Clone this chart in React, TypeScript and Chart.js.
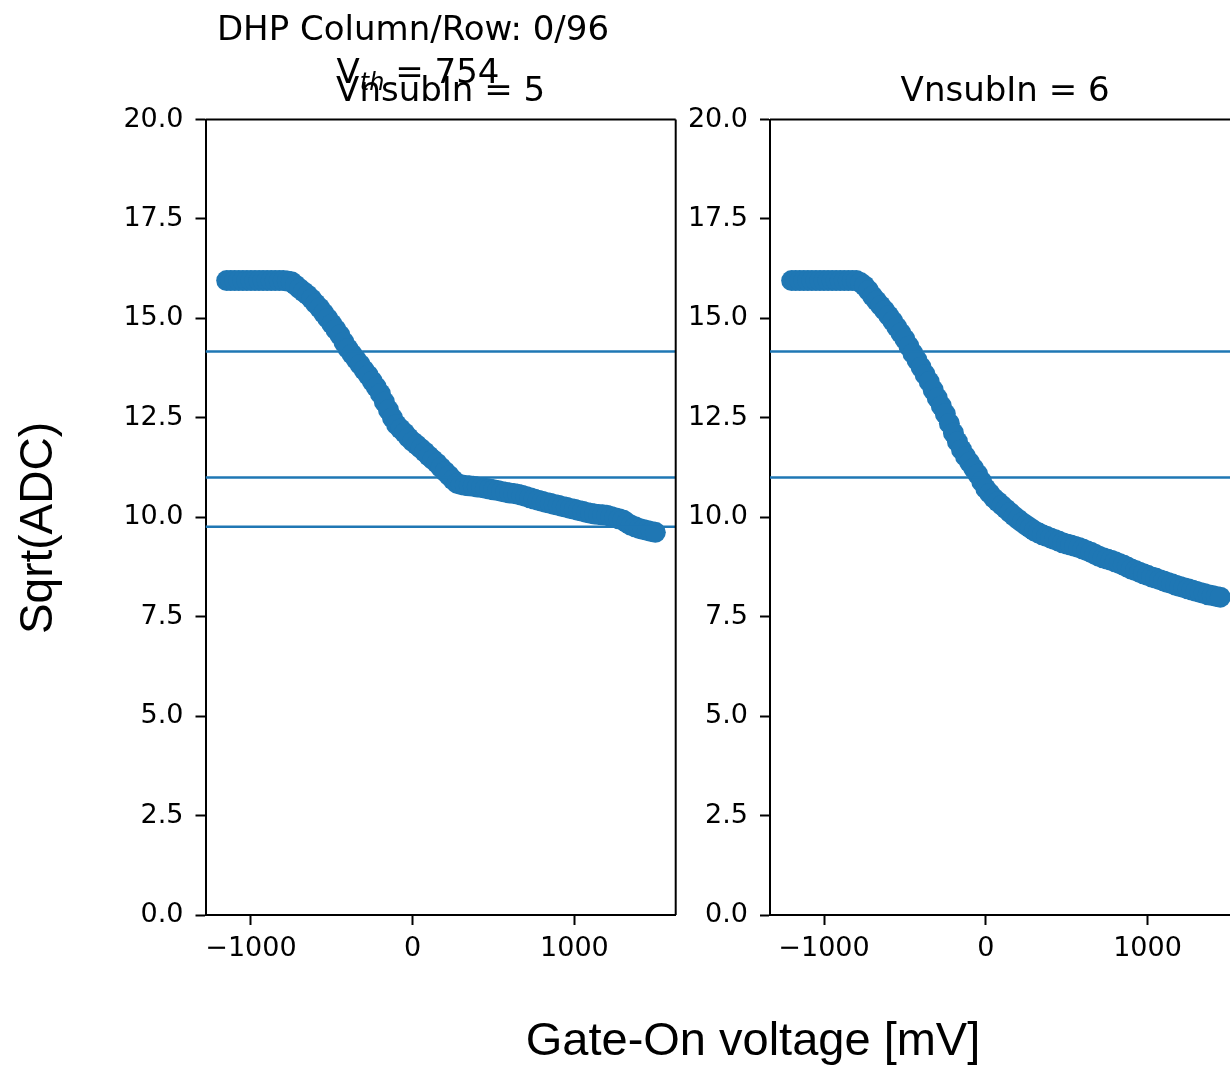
import React, { useEffect, useRef } from 'react';
import { Chart, registerables } from 'chart.js';

Chart.register(...registerables);

// ---------- data ----------
const suptitle = 'DHP Column/Row: 0/96';
const vthLabel = 'V';
const vthSub = 'th';
const vthValue = 754;
const panelTitles = ['VnsubIn = 5', 'VnsubIn = 6'];
const xAxisLabel = 'Gate-On voltage [mV]';
const yAxisLabel = 'Sqrt(ADC)';

const xTickValues = [-1000, 0, 1000];
const yTickValues = [0, 2.5, 5, 7.5, 10, 12.5, 15, 17.5, 20];

const leftGate = [
  -1150, -1125, -1100, -1075, -1050, -1025, -1000, -975, -950, -925, -900, -875, -850, -825,
  -800, -775, -750, -725, -700, -675, -650, -625, -600, -575, -550, -525, -500, -475, -450,
  -425, -400, -375, -350, -325, -300, -275, -250, -225, -200, -175, -150, -125, -100, -75, -50,
  -25, 0, 25, 50, 75, 100, 125, 150, 175, 200, 225, 250, 275, 300, 325, 350, 375, 400, 425, 450,
  475, 500, 525, 550, 575, 600, 625, 650, 675, 700, 725, 750, 775, 800, 825, 850, 875, 900, 925,
  950, 975, 1000, 1025, 1050, 1075, 1100, 1125, 1150, 1175, 1200, 1225, 1250, 1275, 1300, 1325,
  1350, 1375, 1400, 1425, 1450, 1475, 1500,
];
const leftSqrtAdc = [
  15.95, 15.95, 15.95, 15.95, 15.95, 15.95, 15.95, 15.95, 15.95, 15.95, 15.95, 15.95, 15.95, 15.95,
  15.95, 15.94, 15.92, 15.84, 15.75, 15.67, 15.59, 15.49, 15.37, 15.26, 15.13, 15.0, 14.86, 14.72,
  14.58, 14.4, 14.24, 14.1, 13.97, 13.84, 13.7, 13.57, 13.42, 13.27, 13.11, 12.9, 12.7, 12.5, 12.33,
  12.22, 12.12, 12.0, 11.9, 11.82, 11.73, 11.64, 11.54, 11.45, 11.36, 11.25, 11.15, 11.05, 10.94,
  10.85, 10.82, 10.8, 10.79, 10.78, 10.76, 10.75, 10.73, 10.71, 10.69, 10.67, 10.65, 10.63, 10.61,
  10.6, 10.58, 10.55, 10.52, 10.49, 10.46, 10.43, 10.4, 10.37, 10.35, 10.32, 10.3, 10.27, 10.25,
  10.22, 10.2, 10.17, 10.15, 10.12, 10.1, 10.08, 10.07, 10.06, 10.05, 10.02, 9.99, 9.96, 9.93,
  9.86, 9.8, 9.76, 9.72, 9.69, 9.67, 9.64, 9.62,
];
const leftThresholds = [14.17, 11.0, 9.76];

const rightGate = [
  -1200, -1175, -1150, -1125, -1100, -1075, -1050, -1025, -1000, -975, -950, -925, -900, -875,
  -850, -825, -800, -775, -750, -725, -700, -675, -650, -625, -600, -575, -550, -525, -500, -475,
  -450, -425, -400, -375, -350, -325, -300, -275, -250, -225, -200, -175, -150, -125, -100, -75,
  -50, -25, 0, 25, 50, 75, 100, 125, 150, 175, 200, 225, 250, 275, 300, 325, 350, 375, 400, 425,
  450, 475, 500, 525, 550, 575, 600, 625, 650, 675, 700, 725, 750, 775, 800, 825, 850, 875, 900,
  925, 950, 975, 1000, 1025, 1050, 1075, 1100, 1125, 1150, 1175, 1200, 1225, 1250, 1275, 1300,
  1325, 1350, 1375, 1400, 1425, 1450,
];
const rightSqrtAdc = [
  15.95, 15.95, 15.95, 15.95, 15.95, 15.95, 15.95, 15.95, 15.95, 15.95, 15.95, 15.95, 15.95, 15.95,
  15.95, 15.95, 15.95, 15.9, 15.82, 15.7, 15.56, 15.44, 15.32, 15.2, 15.07, 14.93, 14.78, 14.63,
  14.48, 14.3, 14.12, 13.95, 13.77, 13.59, 13.41, 13.2, 13.0, 12.8, 12.6, 12.36, 12.12, 11.9, 11.7,
  11.53, 11.38, 11.23, 11.08, 10.9, 10.72, 10.6, 10.48, 10.39, 10.3, 10.21, 10.12, 10.03, 9.95,
  9.87, 9.8, 9.73, 9.66, 9.61, 9.56, 9.52, 9.48, 9.44, 9.4, 9.36, 9.33, 9.3, 9.27, 9.24, 9.2, 9.16,
  9.12, 9.07, 9.02, 8.98, 8.95, 8.92, 8.88, 8.84, 8.8, 8.75, 8.7, 8.66, 8.62, 8.58, 8.54, 8.5, 8.47,
  8.43, 8.4, 8.36, 8.33, 8.29, 8.26, 8.23, 8.2, 8.17, 8.14, 8.11, 8.08, 8.05, 8.03, 8.01, 7.99,
];
const rightThresholds = [14.17, 11.0];

const leftXRange = [-1281, 1626];
const rightXRange = [-1334, 1573];
const yRange = [0, 20];

// ---------- styling ----------
const BLUE = '#1f77b4';
const TICK_FONT = 'DejaVu Sans';
const LABEL_FONT = 'Liberation Sans';
const CANVAS_W = 1300;
const CANVAS_H = 1065;
const Y_AXIS_W = 100;
const X_AXIS_H = 70;

const fmtX = (v: number) => (v < 0 ? '\u2212' + Math.abs(v) : String(v));

function framePlugin() {
  return {
    id: 'frame',
    afterDraw(chart: any) {
      const { ctx, chartArea: a } = chart;
      ctx.save();
      ctx.strokeStyle = '#000';
      ctx.lineWidth = 2;
      ctx.beginPath();
      ctx.moveTo(a.left, a.top);
      ctx.lineTo(a.right, a.top);
      ctx.moveTo(a.right, a.top);
      ctx.lineTo(a.right, a.bottom);
      ctx.stroke();
      ctx.restore();
    },
  };
}

function textPlugin(isLeft: boolean, title: string) {
  return {
    id: 'texts',
    afterDraw(chart: any) {
      const { ctx, chartArea: a } = chart;
      const cx = (a.left + a.right) / 2;
      ctx.save();
      ctx.fillStyle = '#000';
      ctx.textBaseline = 'alphabetic';
      ctx.textAlign = 'center';
      ctx.font = `34px "${TICK_FONT}"`;
      ctx.fillText(title, cx, 101);
      if (isLeft) {
        ctx.fillText(suptitle, 413, 40);
        // V_th = 754
        const mainFont = `34px "${TICK_FONT}"`;
        const subFont = `italic 24px "${TICK_FONT}"`;
        const rest = ' = ' + vthValue;
        ctx.font = mainFont;
        const wV = ctx.measureText(vthLabel).width;
        const wR = ctx.measureText(rest).width;
        ctx.font = subFont;
        const wS = ctx.measureText(vthSub).width;
        const total = wV + wS + wR;
        let x = 418 - total / 2;
        ctx.textAlign = 'left';
        ctx.font = mainFont;
        ctx.fillText(vthLabel, x, 83);
        x += wV;
        ctx.font = subFont;
        ctx.fillText(vthSub, x, 90);
        x += wS;
        ctx.font = mainFont;
        ctx.fillText(rest, x, 83);
        // axis labels
        ctx.textAlign = 'center';
        ctx.font = `47px "${LABEL_FONT}"`;
        ctx.fillText(xAxisLabel, 753, 1055);
        ctx.save();
        ctx.translate(52, 528);
        ctx.rotate(-Math.PI / 2);
        ctx.font = `46px "${LABEL_FONT}"`;
        ctx.fillText(yAxisLabel, 0, 0);
        ctx.restore();
      }
      ctx.restore();
    },
  };
}

function makeConfig(
  xs: number[],
  ys: number[],
  thresholds: number[],
  xRange: number[],
  area: { left: number; right: number; top: number; bottom: number },
  isLeft: boolean,
  title: string
): any {
  const tickFont = { family: TICK_FONT, size: 27 };
  return {
    type: 'scatter',
    data: {
      datasets: [
        {
          data: xs.map((x, i) => ({ x, y: ys[i] })),
          backgroundColor: BLUE,
          borderColor: BLUE,
          borderWidth: 0,
          pointRadius: 10.5,
          pointHoverRadius: 10.5,
          order: 2,
        },
        ...thresholds.map((t) => ({
          data: [
            { x: xRange[0], y: t },
            { x: xRange[1], y: t },
          ],
          showLine: true,
          borderColor: BLUE,
          borderWidth: 2.5,
          pointRadius: 0,
          order: 1,
        })),
      ],
    },
    options: {
      animation: false,
      responsive: false,
      events: [],
      layout: {
        padding: {
          left: area.left - Y_AXIS_W,
          right: CANVAS_W - area.right,
          top: area.top,
          bottom: CANVAS_H - area.bottom - X_AXIS_H,
        },
      },
      plugins: { legend: { display: false }, tooltip: { enabled: false }, title: { display: false } },
      scales: {
        x: {
          type: 'linear',
          min: xRange[0],
          max: xRange[1],
          afterFit: (s: any) => {
            s.height = X_AXIS_H;
          },
          afterBuildTicks: (s: any) => {
            s.ticks = xTickValues.map((v) => ({ value: v }));
          },
          grid: { drawOnChartArea: false, drawTicks: true, tickLength: 10, tickWidth: 2, color: '#000' },
          border: { display: true, color: '#000', width: 2 },
          ticks: {
            font: tickFont,
            color: '#000',
            padding: 8,
            maxRotation: 0,
            autoSkip: false,
            callback: (v: number) => fmtX(v),
          },
        },
        y: {
          type: 'linear',
          min: yRange[0],
          max: yRange[1],
          afterFit: (s: any) => {
            s.width = Y_AXIS_W;
          },
          afterBuildTicks: (s: any) => {
            s.ticks = yTickValues.map((v) => ({ value: v }));
          },
          grid: { drawOnChartArea: false, drawTicks: true, tickLength: 10, tickWidth: 2, color: '#000' },
          border: { display: true, color: '#000', width: 2 },
          ticks: {
            font: tickFont,
            color: '#000',
            padding: 12,
            autoSkip: false,
            callback: (v: number) => v.toFixed(1),
          },
        },
      },
    },
    plugins: [framePlugin(), textPlugin(isLeft, title)],
  };
}

export default function App() {
  const leftRef = useRef<HTMLCanvasElement>(null);
  const rightRef = useRef<HTMLCanvasElement>(null);

  useEffect(() => {
    document.body.style.margin = '0';
    const left = new Chart(
      leftRef.current as HTMLCanvasElement,
      makeConfig(
        leftGate,
        leftSqrtAdc,
        leftThresholds,
        leftXRange,
        { left: 205.5, right: 675.7, top: 119.5, bottom: 915 },
        true,
        panelTitles[0]
      )
    );
    const right = new Chart(
      rightRef.current as HTMLCanvasElement,
      makeConfig(
        rightGate,
        rightSqrtAdc,
        rightThresholds,
        rightXRange,
        { left: 770, right: 1240.2, top: 119.5, bottom: 915 },
        false,
        panelTitles[1]
      )
    );
    return () => {
      left.destroy();
      right.destroy();
    };
  }, []);

  const canvasStyle: React.CSSProperties = {
    position: 'absolute',
    left: 0,
    top: 0,
    width: CANVAS_W,
    height: CANVAS_H,
  };

  return (
    <div
      style={{
        position: 'relative',
        width: 1230,
        height: 1065,
        overflow: 'hidden',
        background: '#fff',
      }}
    >
      <canvas ref={leftRef} width={CANVAS_W} height={CANVAS_H} style={canvasStyle} />
      <canvas ref={rightRef} width={CANVAS_W} height={CANVAS_H} style={canvasStyle} />
    </div>
  );
}
